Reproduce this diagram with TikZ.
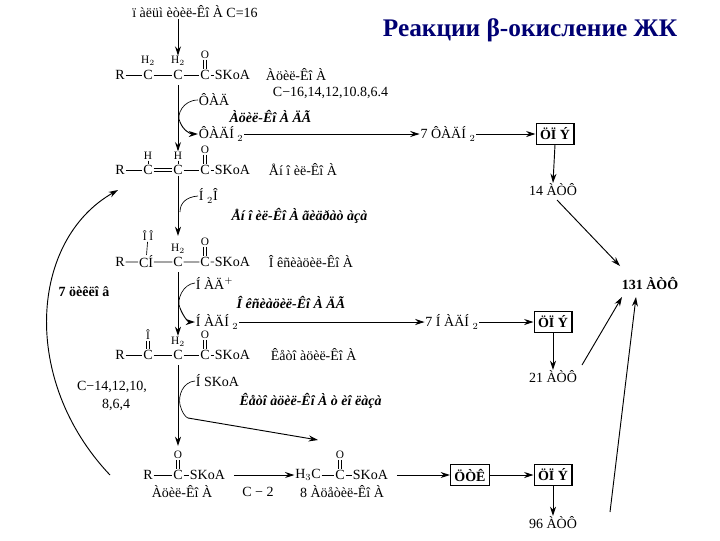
\documentclass[tikz,border=0pt]{standalone}
\usepackage{fontspec}
\setmainfont{Liberation Serif}
\usetikzlibrary{arrows.meta}
\begin{document}
\begin{tikzpicture}[x=0.75pt,y=-0.75pt,
  t/.style={inner sep=0.5pt,font=\fontsize{10.5}{12}\selectfont},
  s/.style={inner sep=0.5pt,font=\fontsize{8.5}{9}\selectfont},
  it/.style={inner sep=1pt,font=\fontsize{10.5}{12}\selectfont\bfseries\itshape},
  bx/.style={draw,line width=0.8pt,inner sep=3pt,font=\fontsize{10.5}{12}\selectfont\bfseries},
  ar/.style={-{Stealth[length=7pt,width=4.5pt]},line width=0.7pt},
  bd/.style={line width=0.5pt}]
\useasboundingbox (0,0) rectangle (720,540);
\node[font=\fontsize{19}{22}\selectfont\bfseries,text=blue!45!black] (title) at (530,30) {Реакции β-окисление ЖК};
\node[t] (top) at (195,12) {ï àëüì èòèë-Êî À C=16};
% row 1
\node[t] (r1R) at (120,75) {R}; \node[t] (r1a) at (148,75) {C}; \node[t] (r1b) at (178,75) {C}; \node[t] (r1c) at (205,75) {C}; \node[t,anchor=west] (r1S) at (214,75) {SKoA};
\node[s] (r1h1) at (148,61) {H$_2$}; \node[s] (r1h2) at (178,61) {H$_2$}; \node[s] (r1o) at (205,55) {O};
\draw[bd] (r1R)--(r1a) (r1a)--(r1b) (r1b)--(r1c) (r1c)--(r1S);
\draw[bd] ([xshift=-1pt]r1o.south)--([xshift=-1pt]r1c.north) ([xshift=1pt]r1o.south)--([xshift=1pt]r1c.north);
\node[t,anchor=west] (l1) at (265,75) {Àöèë-Êî À};
\node[t,anchor=west] (l1b) at (272,93) {C−16,14,12,10.8,6.4};
\draw[ar] (top.south -| r1b) -- (r1h2.north);
% step 1
\node[t,anchor=west] (fad) at (198,100) {ÔÀÄ};
\node[t,anchor=west] (fadh) at (198,134) {ÔÀÄÍ $_2$};
\node[it,anchor=west] (e1) at (228,116) {Àöèë-Êî À ÄÃ};
\draw[bd] (fad.west) .. controls (183,100) and (176,115) .. (180,122);
\draw[ar] (180,122) .. controls (183,130) and (190,134) .. (fadh.west);
\node[t] (p1) at (448,134) {7 ÔÀÄÍ $_2$};
\node[bx] (cp1) at (555,134) {ÖÏ Ý};
\node[t] (atp1) at (553,190) {14 ÀÒÔ};
\draw[ar] (fadh.east) -- (p1.west);
\draw[ar] (p1.east) -- (cp1.west);
\draw[ar] (cp1.south) -- (atp1.north);
% row 2
\node[t] (r2R) at (120,170) {R}; \node[t] (r2a) at (148,170) {C}; \node[t] (r2b) at (178,170) {C}; \node[t] (r2c) at (205,170) {C}; \node[t,anchor=west] (r2S) at (214,170) {SKoA};
\node[s] (r2h1) at (148,156) {H}; \node[s] (r2h2) at (178,156) {H}; \node[s] (r2o) at (205,150) {O};
\draw[bd] (r2R)--(r2a) (r2b)--(r2c) (r2c)--(r2S);
\draw[bd] ([yshift=-1pt]r2a.east)--([yshift=-1pt]r2b.west) ([yshift=1pt]r2a.east)--([yshift=1pt]r2b.west);
\draw[bd] (r2h1)--(r2a) (r2h2)--(r2b);
\draw[bd] ([xshift=-1pt]r2o.south)--([xshift=-1pt]r2c.north) ([xshift=1pt]r2o.south)--([xshift=1pt]r2c.north);
\node[t,anchor=west] (l2) at (268,170) {Åí î èë-Êî À};
\draw[ar] (178,85) -- (r2h2.north);
% step 2
\node[t,anchor=west] (h2o) at (198,196) {Í $_2$Î};
\node[it,anchor=west] (e2) at (230,216) {Åí î èë-Êî À ãèäðàò àçà};
\draw[bd] (h2o.west) .. controls (186,197) and (180,203) .. (180,212);
\draw[ar] (r2b.south) -- (178,236);
% row 3
\node[t] (r3R) at (120,262) {R}; \node[t] (r3a) at (146,262) {CÍ}; \node[t] (r3b) at (178,262) {C}; \node[t] (r3c) at (205,262) {C}; \node[t,anchor=west] (r3S) at (214,262) {SKoA};
\node[s] (r3h1) at (148,236) {Î Î}; \node[s] (r3h2) at (178,249) {H$_2$}; \node[s] (r3o) at (205,242) {O};
\draw[bd] (r3R)--(r3a) (r3a)--(r3b) (r3b)--(r3c) (r3c)--(r3S) (r3h1)--(r3a);
\draw[bd] ([xshift=-1pt]r3o.south)--([xshift=-1pt]r3c.north) ([xshift=1pt]r3o.south)--([xshift=1pt]r3c.north);
\node[t,anchor=west] (l3) at (268,262) {Î êñèàöèë-Êî À};
% step 3
\node[t,anchor=west] (nad) at (195,283) {Í ÀÄ$^+$};
\node[t,anchor=west] (nadh) at (195,322) {Í ÀÄÍ $_2$};
\node[it,anchor=west] (e3) at (235,302) {Î êñèàöèë-Êî À ÄÃ};
\draw[bd] (nad.west) .. controls (183,284) and (176,300) .. (180,308);
\draw[ar] (180,308) .. controls (183,316) and (188,322) .. (nadh.west);
\draw[ar] (178,272) -- (178,336);
\node[t] (p2) at (452,322) {7 Í ÀÄÍ $_2$};
\node[bx] (cp2) at (553,322) {ÖÏ Ý};
\node[t] (atp2) at (553,377) {21 ÀÒÔ};
\draw[ar] (nadh.east) -- (p2.west);
\draw[ar] (p2.east) -- (cp2.west);
\draw[ar] (cp2.south) -- (atp2.north);
\node[t,font=\fontsize{10.5}{12}\selectfont\bfseries] (cyc) at (84,292) {7 öèêëî â};
% row 4
\node[t] (r4R) at (120,355) {R}; \node[t] (r4a) at (148,355) {C}; \node[t] (r4b) at (178,355) {C}; \node[t] (r4c) at (205,355) {C}; \node[t,anchor=west] (r4S) at (214,355) {SKoA};
\node[s] (r4o1) at (148,335) {Î}; \node[s] (r4h2) at (178,342) {H$_2$}; \node[s] (r4o) at (205,335) {O};
\draw[bd] (r4R)--(r4a) (r4a)--(r4b) (r4b)--(r4c) (r4c)--(r4S);
\draw[bd] ([xshift=-1pt]r4o.south)--([xshift=-1pt]r4c.north) ([xshift=1pt]r4o.south)--([xshift=1pt]r4c.north);
\draw[bd] ([xshift=-1pt]r4o1.south)--([xshift=-1pt]r4a.north) ([xshift=1pt]r4o1.south)--([xshift=1pt]r4a.north);
\node[t,anchor=west] (l4) at (270,355) {Êåòî àöèë-Êî À};
\node[t] (cn1) at (112,387) {C−14,12,10,};
\node[t] (cn2) at (116,405) {8,6,4};
% step 4
\node[t,anchor=west] (hs) at (195,381) {Í SKoA};
\node[it,anchor=west] (e4) at (238,401) {Êåòî àöèë-Êî À ò èî ëàçà};
\coordinate (k4) at (188,418);
\draw[bd] (hs.west) .. controls (183,382) and (178,395) .. (180,405) .. controls (182,412) and (185,417) .. (k4);
\coordinate (ac) at (318,440);
\draw[ar] (k4) -- (ac);
\draw[ar] (178,365) -- (178,446);
% row 5
\node[t] (r5R) at (148,475) {R}; \node[t] (r5c) at (178,475) {C}; \node[t,anchor=west] (r5S) at (189,475) {SKoA};
\node[s] (r5o) at (178,455) {O};
\draw[bd] (r5R)--(r5c) (r5c)--(r5S);
\draw[bd] ([xshift=-1pt]r5o.south)--([xshift=-1pt]r5c.north) ([xshift=1pt]r5o.south)--([xshift=1pt]r5c.north);
\node[t] (l5) at (182,492) {Àöèë-Êî À};
\node[t] (c2) at (258,492) {C − 2};
\node[t] (m1) at (308,475) {H$_3$C}; \node[t] (m2) at (340,475) {C}; \node[t,anchor=west] (m3) at (352,475) {SKoA};
\node[s] (mo) at (340,455) {O};
\draw[bd] (m1)--(m2) (m2)--(m3);
\draw[bd] ([xshift=-1pt]mo.south)--([xshift=-1pt]m2.north) ([xshift=1pt]mo.south)--([xshift=1pt]m2.north);
\node[t] (l6) at (342,492) {8 Àöåòèë-Êî À};
\draw[ar] (r5S.east) ++(8,0) coordinate (q1) -- (m1.west);
\node[bx] (tca) at (470,475) {ÖÒÊ};
\node[bx] (cp3) at (553,475) {ÖÏ Ý};
\node[t] (atp3) at (553,523) {96 ÀÒÔ};
\draw[ar] (m3.east) ++(8,0) coordinate (q2) -- (tca.west);
\draw[ar] (tca.east) -- (cp3.west);
\draw[ar] (cp3.south) -- (atp3.north);
% totals
\node[t,font=\fontsize{10.5}{12}\selectfont\bfseries] (tot) at (650,283) {131 ÀÒÔ};
\coordinate (s1) at (557,200);
\draw[ar] (s1) -- (620,266);
\draw[ar] (582,365) -- (622,297);
\draw[ar] (610,512) -- (636,297);
% big cycle arrow
\coordinate (cy0) at (110,475);
\draw[ar] (cy0) .. controls (20,380) and (30,240) .. (118,190);
\end{tikzpicture}
\end{document}
